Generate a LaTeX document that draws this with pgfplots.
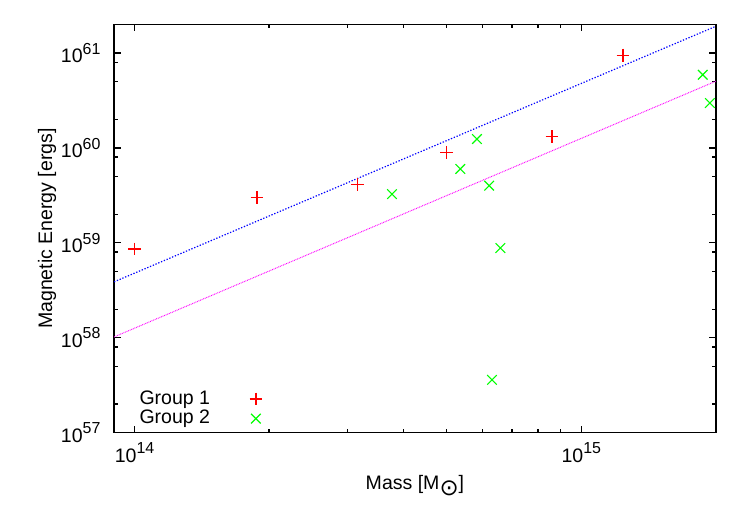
\documentclass[border=0pt]{standalone}
\usepackage{fontspec}
\setmainfont{Liberation Sans}
\newfontfamily\dejavu{DejaVu Sans}
\usepackage{pgfplots}
\pgfplotsset{compat=1.18}
\definecolor{gpred}{rgb}{1,0,0}
\definecolor{gpgreen}{rgb}{0,1,0}
\definecolor{gpblue}{rgb}{0,0,1}
\definecolor{gpmag}{rgb}{1,0,1}
\newcommand{\fs}{\fontsize{19.6}{23}\selectfont}
\newcommand{\pw}[1]{\mbox{\fs 10\raisebox{8.5bp}{\fontsize{16}{16}\selectfont #1}}}
\begin{document}
\fs
\begin{tikzpicture}
\useasboundingbox (-114bp,-88.3bp) rectangle (633bp,432.7bp);
\begin{axis}[
  scale only axis, width=601.7bp, height=408.2bp,
  at={(0,0)}, anchor=south west,
  font=\fs,
  xmode=log, ymode=log,
  xmin=9e13, xmax=2e15, ymin=1e57, ymax=2e61,
  axis line style={line width=1.6bp},
  tick align=inside,
  major tick length=7bp, minor tick length=3.5bp,
  every tick/.style={black, line width=1.2bp},
  xtick={1e14,1e15}, xticklabels={\pw{14},\pw{15}},
  minor xtick={2e14,3e14,4e14,5e14,6e14,7e14,8e14,9e14},
  ytick={1e57,1e58,1e59,1e60,1e61},
  yticklabels={\pw{57},\pw{58},\pw{59},\pw{60},\pw{61}},
  minor ytick={2e57,5e57,8e57,2e58,5e58,8e58,2e59,5e59,8e59,2e60,5e60,8e60,2e61},
  ticklabel style={font=\fs},
  xticklabel style={yshift=-3.5bp},
  yticklabel style={xshift=-7bp},
  xlabel={Mass [M\raisebox{-6bp}{\fontsize{23}{23}\dejavu ⊙}]},
  ylabel={Magnetic Energy [ergs]},
  xlabel style={at={(axis description cs:0.5,-0.1404)}, anchor=base},
  ylabel style={at={(axis description cs:-0.103,0.5)}, anchor=base},
  legend plot pos=right,
  legend cell align=left,
  legend image post style={line width=1.2bp},
  legend style={at={(axis description cs:0.042,0.0135)}, anchor=south west,
    draw=none, fill=none, inner sep=0pt, row sep=3bp, column sep=39.4bp,
    nodes={inner sep=0pt}},
]
\addplot[only marks, mark=+, mark size=6.4bp, gpred, line width=1.15bp]
  coordinates {(1e14,8.6e58) (1.88e14,3.0e59) (3.15e14,4.1e59) (5.0e14,9.0e59) (8.6e14,1.32e60) (1.24e15,9.5e60)};
\addlegendentry{Group 1}
\addplot[only marks, mark=x, mark size=6.8bp, gpgreen, line width=1.1bp]
  coordinates {(3.77e14,3.26e59) (5.36e14,6.0e59) (5.84e14,1.24e60) (6.22e14,4.0e59) (6.59e14,8.8e58) (6.31e14,3.6e57) (1.87e15,5.9e60) (1.94e15,2.97e60)};
\addlegendentry{Group 2}
\addplot[forget plot, gpblue, line width=1.2bp, dash pattern=on 1.3bp off 1.7bp]
  coordinates {(9e13,3.88e58) (2e15,1.91e61)};
\addplot[forget plot, gpmag, line width=1bp, dash pattern=on 0.8bp off 0.9bp]
  coordinates {(9e13,1.02e58) (2e15,5.04e60)};
\end{axis}
\end{tikzpicture}
\end{document}
